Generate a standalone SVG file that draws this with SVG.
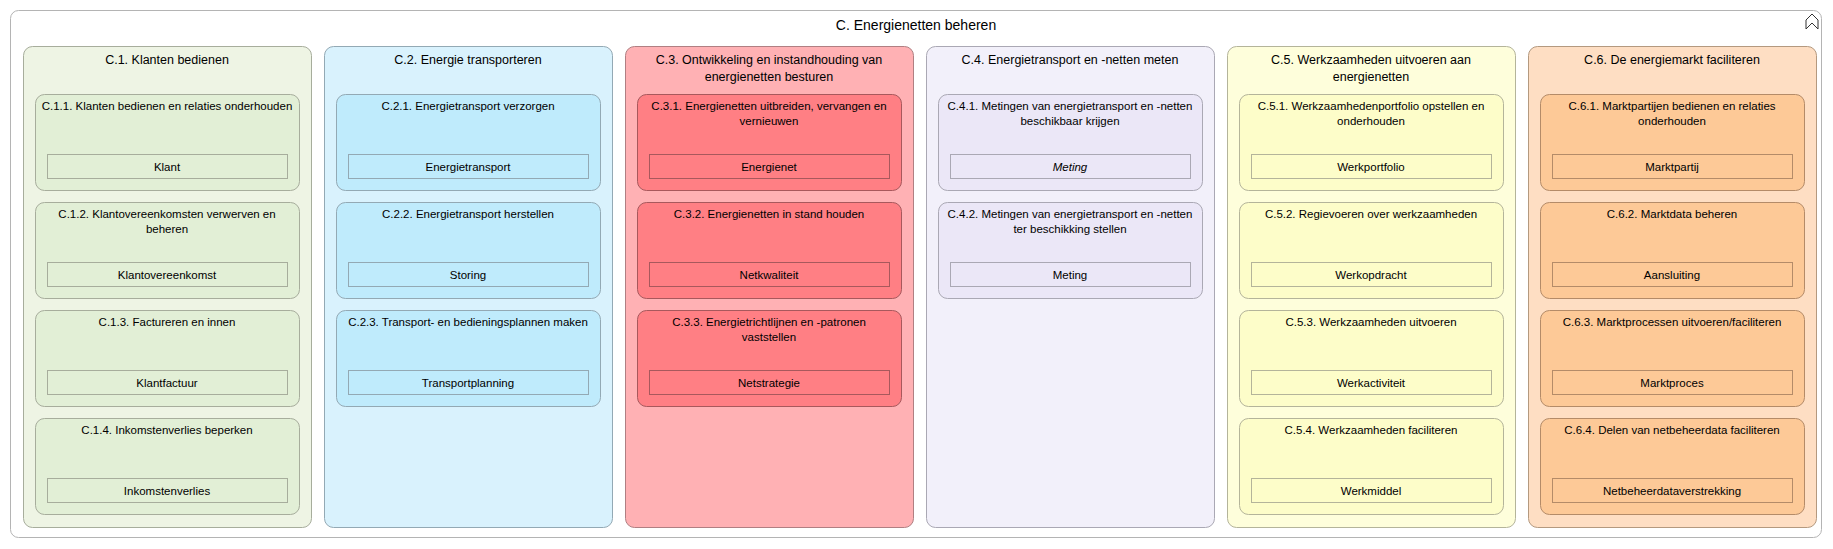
<svg xmlns="http://www.w3.org/2000/svg" width="1833" height="549" viewBox="0 0 1833 549">
<style>
text{font-family:"Liberation Sans",Arial,sans-serif;fill:#000;text-anchor:middle}
.t0{font-size:14px}.t1{font-size:12.5px}.t2{font-size:11.5px}.t3{font-size:11.5px}
.col{stroke-width:1}
.c1{fill:#eef4e4;stroke:#a7ad9c}.i1{fill:#e2efd6;stroke:#a7ad9c}
.c2{fill:#d9f2fd;stroke:#93a9b4}.i2{fill:#bfebfc;stroke:#93a9b4}
.c3{fill:#ffb1b4;stroke:#b07f82}.i3{fill:#ff7f84;stroke:#a8585c}
.c4{fill:#f2f0fa;stroke:#aaa8b4}.i4{fill:#ebe7f7;stroke:#aaa8b4}
.c5{fill:#fefedb;stroke:#b4b49a}.i5{fill:#fdfdc9;stroke:#b4b49a}
.c6{fill:#fedec3;stroke:#b4997f}.i6{fill:#fdc997;stroke:#b48b68}
.lb{stroke-width:1}
</style>
<g id="root">
<rect x="10.5" y="10.5" width="1811" height="527" rx="8" fill="#fff" stroke="#b4b4b4"/>
<text class="t0" x="916" y="30">C. Energienetten beheren</text>
<path d="M1806 29 L1806 20 L1812 14 L1818 20 L1818 29 L1812 23 Z M1807 19 L1812 14 L1817 19" fill="none" stroke="#333" stroke-width="1"/>
</g>
<g id="C1">
<rect class="c1" x="23.5" y="46.5" width="288" height="481" rx="9"/>
<text class="t1" x="167" y="64">C.1. Klanten bedienen</text>
</g>
<g id="C1.1"><rect class="i1" x="35.5" y="94.5" width="264" height="96" rx="9"/><text class="t2" x="167" y="110">C.1.1. Klanten bedienen en relaties onderhouden</text><rect class="i1 lb" x="47.5" y="154.5" width="240" height="24"/><text class="t3" x="167" y="171">Klant</text></g>
<g id="C1.2"><rect class="i1" x="35.5" y="202.5" width="264" height="96" rx="9"/><text class="t2" x="167" y="218">C.1.2. Klantovereenkomsten verwerven en</text><text class="t2" x="167" y="233">beheren</text><rect class="i1 lb" x="47.5" y="262.5" width="240" height="24"/><text class="t3" x="167" y="279">Klantovereenkomst</text></g>
<g id="C1.3"><rect class="i1" x="35.5" y="310.5" width="264" height="96" rx="9"/><text class="t2" x="167" y="326">C.1.3. Factureren en innen</text><rect class="i1 lb" x="47.5" y="370.5" width="240" height="24"/><text class="t3" x="167" y="387">Klantfactuur</text></g>
<g id="C1.4"><rect class="i1" x="35.5" y="418.5" width="264" height="96" rx="9"/><text class="t2" x="167" y="434">C.1.4. Inkomstenverlies beperken</text><rect class="i1 lb" x="47.5" y="478.5" width="240" height="24"/><text class="t3" x="167" y="495">Inkomstenverlies</text></g>

<g id="C2">
<rect class="c2" x="324.5" y="46.5" width="288" height="481" rx="9"/>
<text class="t1" x="468" y="64">C.2. Energie transporteren</text>
</g>
<g id="C2.1"><rect class="i2" x="336.5" y="94.5" width="264" height="96" rx="9"/><text class="t2" x="468" y="110">C.2.1. Energietransport verzorgen</text><rect class="i2 lb" x="348.5" y="154.5" width="240" height="24"/><text class="t3" x="468" y="171">Energietransport</text></g>
<g id="C2.2"><rect class="i2" x="336.5" y="202.5" width="264" height="96" rx="9"/><text class="t2" x="468" y="218">C.2.2. Energietransport herstellen</text><rect class="i2 lb" x="348.5" y="262.5" width="240" height="24"/><text class="t3" x="468" y="279">Storing</text></g>
<g id="C2.3"><rect class="i2" x="336.5" y="310.5" width="264" height="96" rx="9"/><text class="t2" x="468" y="326">C.2.3. Transport- en bedieningsplannen maken</text><rect class="i2 lb" x="348.5" y="370.5" width="240" height="24"/><text class="t3" x="468" y="387">Transportplanning</text></g>

<g id="C3">
<rect class="c3" x="625.5" y="46.5" width="288" height="481" rx="9"/>
<text class="t1" x="769" y="64">C.3. Ontwikkeling en instandhouding van</text>
<text class="t1" x="769" y="81">energienetten besturen</text>
</g>
<g id="C3.1"><rect class="i3" x="637.5" y="94.5" width="264" height="96" rx="9"/><text class="t2" x="769" y="110">C.3.1. Energienetten uitbreiden, vervangen en</text><text class="t2" x="769" y="125">vernieuwen</text><rect class="i3 lb" x="649.5" y="154.5" width="240" height="24"/><text class="t3" x="769" y="171">Energienet</text></g>
<g id="C3.2"><rect class="i3" x="637.5" y="202.5" width="264" height="96" rx="9"/><text class="t2" x="769" y="218">C.3.2. Energienetten in stand houden</text><rect class="i3 lb" x="649.5" y="262.5" width="240" height="24"/><text class="t3" x="769" y="279">Netkwaliteit</text></g>
<g id="C3.3"><rect class="i3" x="637.5" y="310.5" width="264" height="96" rx="9"/><text class="t2" x="769" y="326">C.3.3. Energietrichtlijnen en -patronen</text><text class="t2" x="769" y="341">vaststellen</text><rect class="i3 lb" x="649.5" y="370.5" width="240" height="24"/><text class="t3" x="769" y="387">Netstrategie</text></g>

<g id="C4">
<rect class="c4" x="926.5" y="46.5" width="288" height="481" rx="9"/>
<text class="t1" x="1070" y="64">C.4. Energietransport en -netten meten</text>
</g>
<g id="C4.1"><rect class="i4" x="938.5" y="94.5" width="264" height="96" rx="9"/><text class="t2" x="1070" y="110">C.4.1. Metingen van energietransport en -netten</text><text class="t2" x="1070" y="125">beschikbaar krijgen</text><rect class="i4 lb" x="950.5" y="154.5" width="240" height="24"/><text class="t3" x="1070" y="171" font-style="italic">Meting</text></g>
<g id="C4.2"><rect class="i4" x="938.5" y="202.5" width="264" height="96" rx="9"/><text class="t2" x="1070" y="218">C.4.2. Metingen van energietransport en -netten</text><text class="t2" x="1070" y="233">ter beschikking stellen</text><rect class="i4 lb" x="950.5" y="262.5" width="240" height="24"/><text class="t3" x="1070" y="279">Meting</text></g>

<g id="C5">
<rect class="c5" x="1227.5" y="46.5" width="288" height="481" rx="9"/>
<text class="t1" x="1371" y="64">C.5. Werkzaamheden uitvoeren aan</text>
<text class="t1" x="1371" y="81">energienetten</text>
</g>
<g id="C5.1"><rect class="i5" x="1239.5" y="94.5" width="264" height="96" rx="9"/><text class="t2" x="1371" y="110">C.5.1. Werkzaamhedenportfolio opstellen en</text><text class="t2" x="1371" y="125">onderhouden</text><rect class="i5 lb" x="1251.5" y="154.5" width="240" height="24"/><text class="t3" x="1371" y="171">Werkportfolio</text></g>
<g id="C5.2"><rect class="i5" x="1239.5" y="202.5" width="264" height="96" rx="9"/><text class="t2" x="1371" y="218">C.5.2. Regievoeren over werkzaamheden</text><rect class="i5 lb" x="1251.5" y="262.5" width="240" height="24"/><text class="t3" x="1371" y="279">Werkopdracht</text></g>
<g id="C5.3"><rect class="i5" x="1239.5" y="310.5" width="264" height="96" rx="9"/><text class="t2" x="1371" y="326">C.5.3. Werkzaamheden uitvoeren</text><rect class="i5 lb" x="1251.5" y="370.5" width="240" height="24"/><text class="t3" x="1371" y="387">Werkactiviteit</text></g>
<g id="C5.4"><rect class="i5" x="1239.5" y="418.5" width="264" height="96" rx="9"/><text class="t2" x="1371" y="434">C.5.4. Werkzaamheden faciliteren</text><rect class="i5 lb" x="1251.5" y="478.5" width="240" height="24"/><text class="t3" x="1371" y="495">Werkmiddel</text></g>

<g id="C6">
<rect class="c6" x="1528.5" y="46.5" width="288" height="481" rx="9"/>
<text class="t1" x="1672" y="64">C.6. De energiemarkt faciliteren</text>
</g>
<g id="C6.1"><rect class="i6" x="1540.5" y="94.5" width="264" height="96" rx="9"/><text class="t2" x="1672" y="110">C.6.1. Marktpartijen bedienen en relaties</text><text class="t2" x="1672" y="125">onderhouden</text><rect class="i6 lb" x="1552.5" y="154.5" width="240" height="24"/><text class="t3" x="1672" y="171">Marktpartij</text></g>
<g id="C6.2"><rect class="i6" x="1540.5" y="202.5" width="264" height="96" rx="9"/><text class="t2" x="1672" y="218">C.6.2. Marktdata beheren</text><rect class="i6 lb" x="1552.5" y="262.5" width="240" height="24"/><text class="t3" x="1672" y="279">Aansluiting</text></g>
<g id="C6.3"><rect class="i6" x="1540.5" y="310.5" width="264" height="96" rx="9"/><text class="t2" x="1672" y="326">C.6.3. Marktprocessen uitvoeren/faciliteren</text><rect class="i6 lb" x="1552.5" y="370.5" width="240" height="24"/><text class="t3" x="1672" y="387">Marktproces</text></g>
<g id="C6.4"><rect class="i6" x="1540.5" y="418.5" width="264" height="96" rx="9"/><text class="t2" x="1672" y="434">C.6.4. Delen van netbeheerdata faciliteren</text><rect class="i6 lb" x="1552.5" y="478.5" width="240" height="24"/><text class="t3" x="1672" y="495">Netbeheerdataverstrekking</text></g>
<g id="connectors"/>
</svg>
